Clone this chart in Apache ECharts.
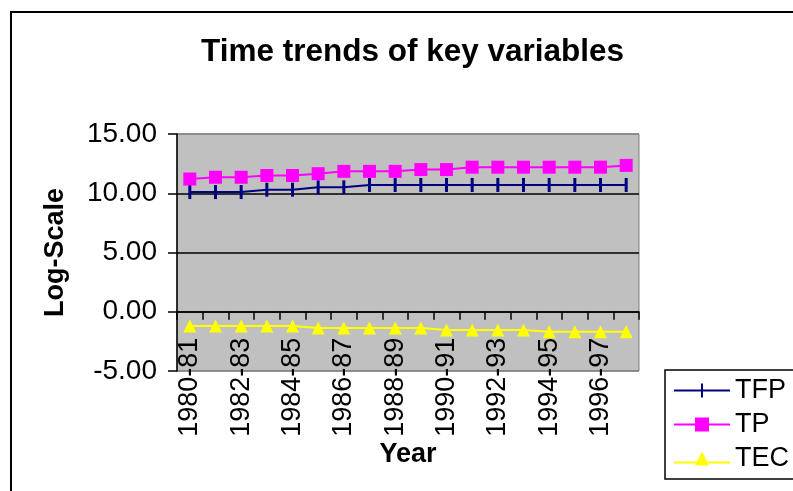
<!DOCTYPE html>
<html>
<head>
<meta charset="utf-8">
<title>Time trends of key variables</title>
<script src="https://cdn.jsdelivr.net/npm/echarts@6/dist/echarts.min.js"></script>
<style>
  html, body { margin: 0; padding: 0; background: #fff; }
  #chart { width: 793px; height: 491px; }
</style>
</head>
<body>
<div id="chart"></div>
<script>
// categories (financial years)
var years = ['1980-81', '1981-82', '1982-83', '1983-84', '1984-85', '1985-86',
  '1986-87', '1987-88', '1988-89', '1989-90', '1990-91', '1991-92',
  '1992-93', '1993-94', '1994-95', '1995-96', '1996-97', '1997-98'];

// series values
var tfp = [10.1, 10.1, 10.1, 10.3, 10.3, 10.5, 10.5, 10.7, 10.7, 10.7,
  10.7, 10.7, 10.7, 10.7, 10.7, 10.7, 10.7, 10.7];
var tp = [11.2, 11.35, 11.35, 11.5, 11.5, 11.65, 11.85, 11.85, 11.85, 12.0,
  12.0, 12.2, 12.2, 12.2, 12.2, 12.2, 12.2, 12.35];
var tec = [-1.2, -1.2, -1.2, -1.2, -1.2, -1.38, -1.38, -1.38, -1.38, -1.38,
  -1.53, -1.53, -1.53, -1.53, -1.69, -1.69, -1.69, -1.69];

// y ticks
var yMin = -5, yMax = 15, yStep = 5;

var FONT = 'Liberation Sans, Arial, sans-serif';

// legend icons: line + marker, drawn in a 56x14 box
var iconTFP = 'path://M0,6L56,6L56,8L0,8Z M27,0L29,0L29,14L27,14Z';
var iconTP = 'path://M0,6L56,6L56,8L0,8Z M21,0L35,0L35,14L21,14Z';
var iconTEC = 'path://M0,12L56,12L56,14L0,14Z M28,2L35,16L21,16Z';

var chart = echarts.init(document.getElementById('chart'), null, { renderer: 'canvas' });

// plot box
var gridTop = 134, gridBottom = 120;
var plotH = 491 - gridTop - gridBottom;
// pixel distance from the bottom of the plot to the zero line
var zeroOffset = plotH * (0 - yMin) / (yMax - yMin);

var option = {
  backgroundColor: '#fff',
  animation: false,
  textStyle: { fontFamily: FONT, color: '#000' },
  graphic: [{
    // outer chart frame
    type: 'rect',
    shape: { x: 11, y: 12, width: 800, height: 500 },
    style: { fill: null, stroke: '#000', lineWidth: 2 },
    z: 0
  }],
  title: {
    text: 'Time trends of key variables',
    left: 201,
    top: 36,
    padding: 0,
    textStyle: { fontFamily: FONT, fontSize: 31.5, fontWeight: 'bold', color: '#000' }
  },
  legend: {
    orient: 'vertical',
    left: 665,
    top: 370,
    padding: [7, 40, 7, 9],
    itemGap: 7,
    itemWidth: 56,
    itemHeight: 14,
    borderColor: '#000',
    borderWidth: 1.5,
    textStyle: { fontFamily: FONT, fontSize: 27, color: '#000' },
    data: [
      { name: 'TFP', icon: iconTFP },
      { name: 'TP', icon: iconTP },
      { name: 'TEC', icon: iconTEC }
    ]
  },
  grid: {
    left: 177,
    right: 154,
    top: gridTop,
    bottom: gridBottom,
    outerBoundsMode: 'none',
    containLabel: false,
    show: true,
    backgroundColor: '#C0C0C0',
    borderColor: '#808080',
    borderWidth: 1
  },
  xAxis: {
    type: 'category',
    data: years,
    boundaryGap: true,
    position: 'bottom',
    offset: -zeroOffset,
    name: 'Year',
    nameLocation: 'middle',
    nameGap: 126,
    nameTextStyle: { fontFamily: FONT, fontSize: 27, fontWeight: 'bold', color: '#000' },
    axisLine: { onZero: false, lineStyle: { color: '#000', width: 1.5 } },
    axisTick: { show: true, interval: 0, length: 8, lineStyle: { color: '#000', width: 1.5 } },
    axisLabel: {
      interval: 1,
      rotate: 90,
      margin: 26,
      fontFamily: FONT,
      fontSize: 27,
      color: '#000'
    },
    splitLine: { show: false }
  },
  yAxis: {
    type: 'value',
    min: yMin,
    max: yMax,
    interval: yStep,
    name: 'Log-Scale',
    nameLocation: 'middle',
    nameGap: 108,
    nameTextStyle: { fontFamily: FONT, fontSize: 27, fontWeight: 'bold', color: '#000' },
    axisLine: { show: true, lineStyle: { color: '#000', width: 1.5 } },
    axisTick: { show: true, length: 9, lineStyle: { color: '#000', width: 1.5 } },
    axisLabel: {
      margin: 20,
      fontFamily: FONT,
      fontSize: 28,
      color: '#000',
      formatter: function (v) { return v.toFixed(2); }
    },
    splitLine: {
      show: true,
      lineStyle: { color: ['#808080', '#000', '#000', '#000', '#808080'], width: 1.5 }
    }
  },
  series: [{
    name: 'TFP',
    type: 'line',
    data: tfp,
    symbol: 'rect',
    symbolSize: [3, 14],
    lineStyle: { color: '#000080', width: 2 },
    itemStyle: { color: '#000080' },
    z: 3
  }, {
    name: 'TP',
    type: 'line',
    data: tp,
    symbol: 'rect',
    symbolSize: 13,
    lineStyle: { color: '#FF00FF', width: 2 },
    itemStyle: { color: '#FF00FF' },
    z: 4
  }, {
    name: 'TEC',
    type: 'line',
    data: tec,
    symbol: 'triangle',
    symbolSize: 13,
    lineStyle: { color: '#FFFF00', width: 2 },
    itemStyle: { color: '#FFFF00' },
    z: 3
  }]
};

chart.setOption(option);
</script>
</body>
</html>
